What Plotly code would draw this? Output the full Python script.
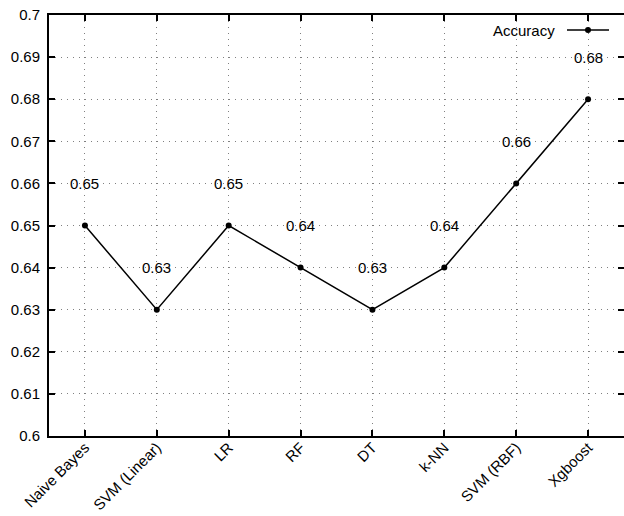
import plotly.graph_objects as go

categories = ["Naive Bayes", "SVM (Linear)", "LR", "RF", "DT", "k-NN", "SVM (RBF)", "Xgboost"]
accuracy = [0.65, 0.63, 0.65, 0.64, 0.63, 0.64, 0.66, 0.68]
series_name = "Accuracy"

W, H = 624, 516
L, R, T, B = 49, 0, 15, 80
FONT = dict(family="Liberation Sans, Arial, Helvetica, sans-serif", size=15, color="black")

def px_x(px):
    return (px - L) / (W - L - R)

def px_y(py):
    return 1 - (py - T) / (H - T - B)

xs = list(range(len(categories)))

fig = go.Figure()
fig.add_trace(go.Scatter(
    x=xs, y=accuracy, mode="lines+markers", name=series_name,
    line=dict(color="black", width=1.5),
    marker=dict(color="black", size=6),
    showlegend=False, cliponaxis=False,
))

for xi, v in zip(xs, accuracy):
    fig.add_annotation(x=xi, y=v + 0.01, text=f"{v:.2f}", showarrow=False,
                       font=FONT, xanchor="center", yanchor="middle")

# legend (text left, sample on right, gnuplot style)
fig.add_annotation(x=px_x(557), y=px_y(30), xref="paper", yref="paper",
                   text=series_name, showarrow=False, font=FONT,
                   xanchor="right", yanchor="middle")
fig.add_shape(type="line", xref="paper", yref="paper",
              x0=px_x(567), x1=px_x(609), y0=px_y(30), y1=px_y(30),
              line=dict(color="black", width=1.5))
fig.add_shape(type="circle", xref="paper", yref="paper",
              x0=px_x(585), x1=px_x(591), y0=px_y(33), y1=px_y(27),
              fillcolor="black", line=dict(color="black", width=0))

axis_common = dict(
    showline=True, linecolor="black", linewidth=2, mirror="ticks",
    ticks="inside", ticklen=6, tickwidth=1.5, tickcolor="black",
    showgrid=True, gridcolor="#808080", griddash="1px,5px", gridwidth=1,
    zeroline=False, tickfont=FONT,
)

fig.update_xaxes(range=[-0.5, 7.5], tickmode="array", tickvals=xs, ticktext=categories,
                 tickangle=-45, ticklabelstandoff=-5, **axis_common)
fig.update_yaxes(range=[0.6, 0.7], dtick=0.01, tick0=0.6, ticklabelstandoff=4, **axis_common)

fig.update_layout(
    width=W, height=H, margin=dict(l=L, r=R, t=T, b=B, autoexpand=False),
    paper_bgcolor="white", plot_bgcolor="white", font=FONT,
)

fig.write_html("out.html", config={"displayModeBar": False},
               post_script="document.body.style.margin='0';document.body.style.overflow='hidden';")
